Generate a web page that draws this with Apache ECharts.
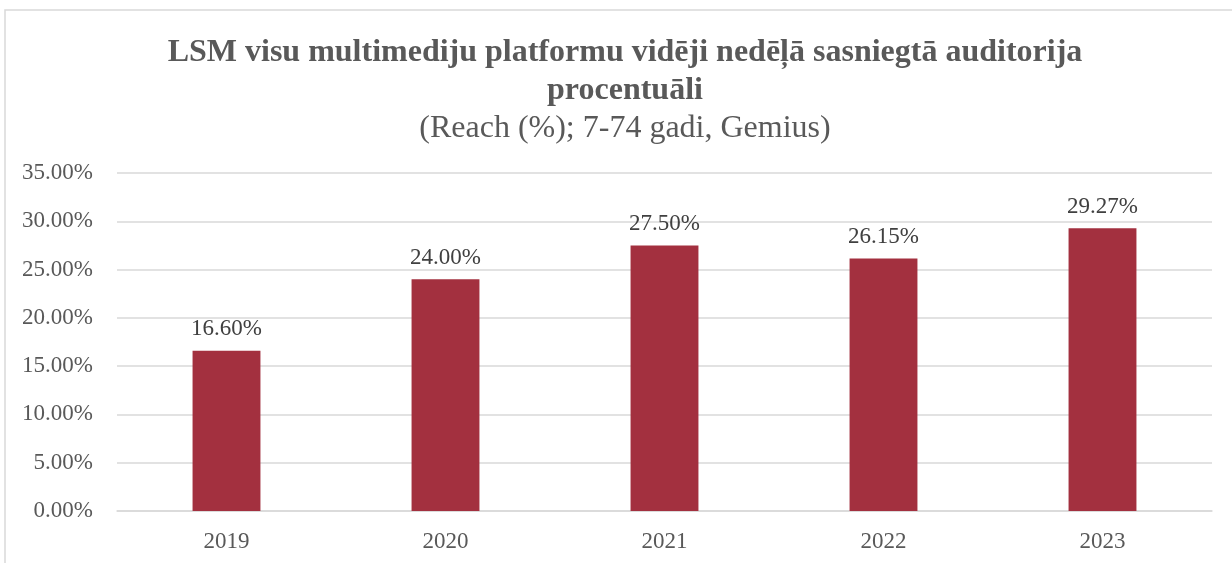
<!DOCTYPE html>
<html>
<head>
    <meta charset="utf-8">
    <title>LSM reach</title>
    <script src="https://cdn.jsdelivr.net/npm/echarts@6/dist/echarts.min.js"></script>
    <style>
        html, body { margin: 0; padding: 0; height: 100%; overflow: hidden; background: #fff; }
        #main { width: 1232px; height: 563px; }
    </style>
</head>
<body>
    <div id="main"></div>
    <script>
        const years = ['2019', '2020', '2021', '2022', '2023'];
        const reach = [16.60, 24.00, 27.50, 26.15, 29.27];
        const titleText = 'LSM visu multimediju platformu vidēji nedēļā sasniegtā auditorija\nprocentuāli';
        const subtitleText = '(Reach (%); 7-74 gadi, Gemius)';

        const serif = '"Liberation Serif", "Times New Roman", serif';
        const chart = echarts.init(document.getElementById('main'));

        chart.setOption({
            animation: false,
            backgroundColor: '#fff',
            // outer frame of the chart area
            graphic: [{
                type: 'rect',
                silent: true,
                shape: { x: 5, y: 10, width: 1260, height: 580 },
                style: { fill: 'none', stroke: '#d9d9d9', lineWidth: 1.5 }
            }],
            title: {
                text: titleText,
                subtext: subtitleText,
                left: 620,
                top: 29,
                textAlign: 'center',
                itemGap: 0,
                textStyle: {
                    fontFamily: serif, fontSize: 32, fontWeight: 'bold',
                    color: '#595959', lineHeight: 38
                },
                subtextStyle: {
                    fontFamily: serif, fontSize: 32, color: '#595959', lineHeight: 38
                }
            },
            grid: { left: 117, right: 20, top: 173, bottom: 52 },
            xAxis: {
                type: 'category',
                data: years,
                axisLine: { lineStyle: { color: '#d9d9d9', width: 1.5 } },
                axisTick: { show: false },
                axisLabel: { fontFamily: serif, fontSize: 23, color: '#595959', margin: 19 }
            },
            yAxis: {
                type: 'value',
                min: 0,
                max: 35,
                interval: 5,
                axisLine: { show: false },
                axisTick: { show: false },
                splitLine: { lineStyle: { color: '#d9d9d9', width: 1.5 } },
                axisLabel: {
                    fontFamily: serif, fontSize: 23, color: '#595959', margin: 24,
                    formatter: v => v.toFixed(2) + '%'
                }
            },
            series: [{
                type: 'bar',
                data: reach,
                barWidth: '31%',
                itemStyle: { color: '#a3303f' },
                label: {
                    show: true,
                    position: 'top',
                    distance: 10,
                    fontFamily: serif,
                    fontSize: 23,
                    color: '#404040',
                    formatter: p => p.value.toFixed(2) + '%'
                }
            }]
        });
    </script>
</body>
</html>
